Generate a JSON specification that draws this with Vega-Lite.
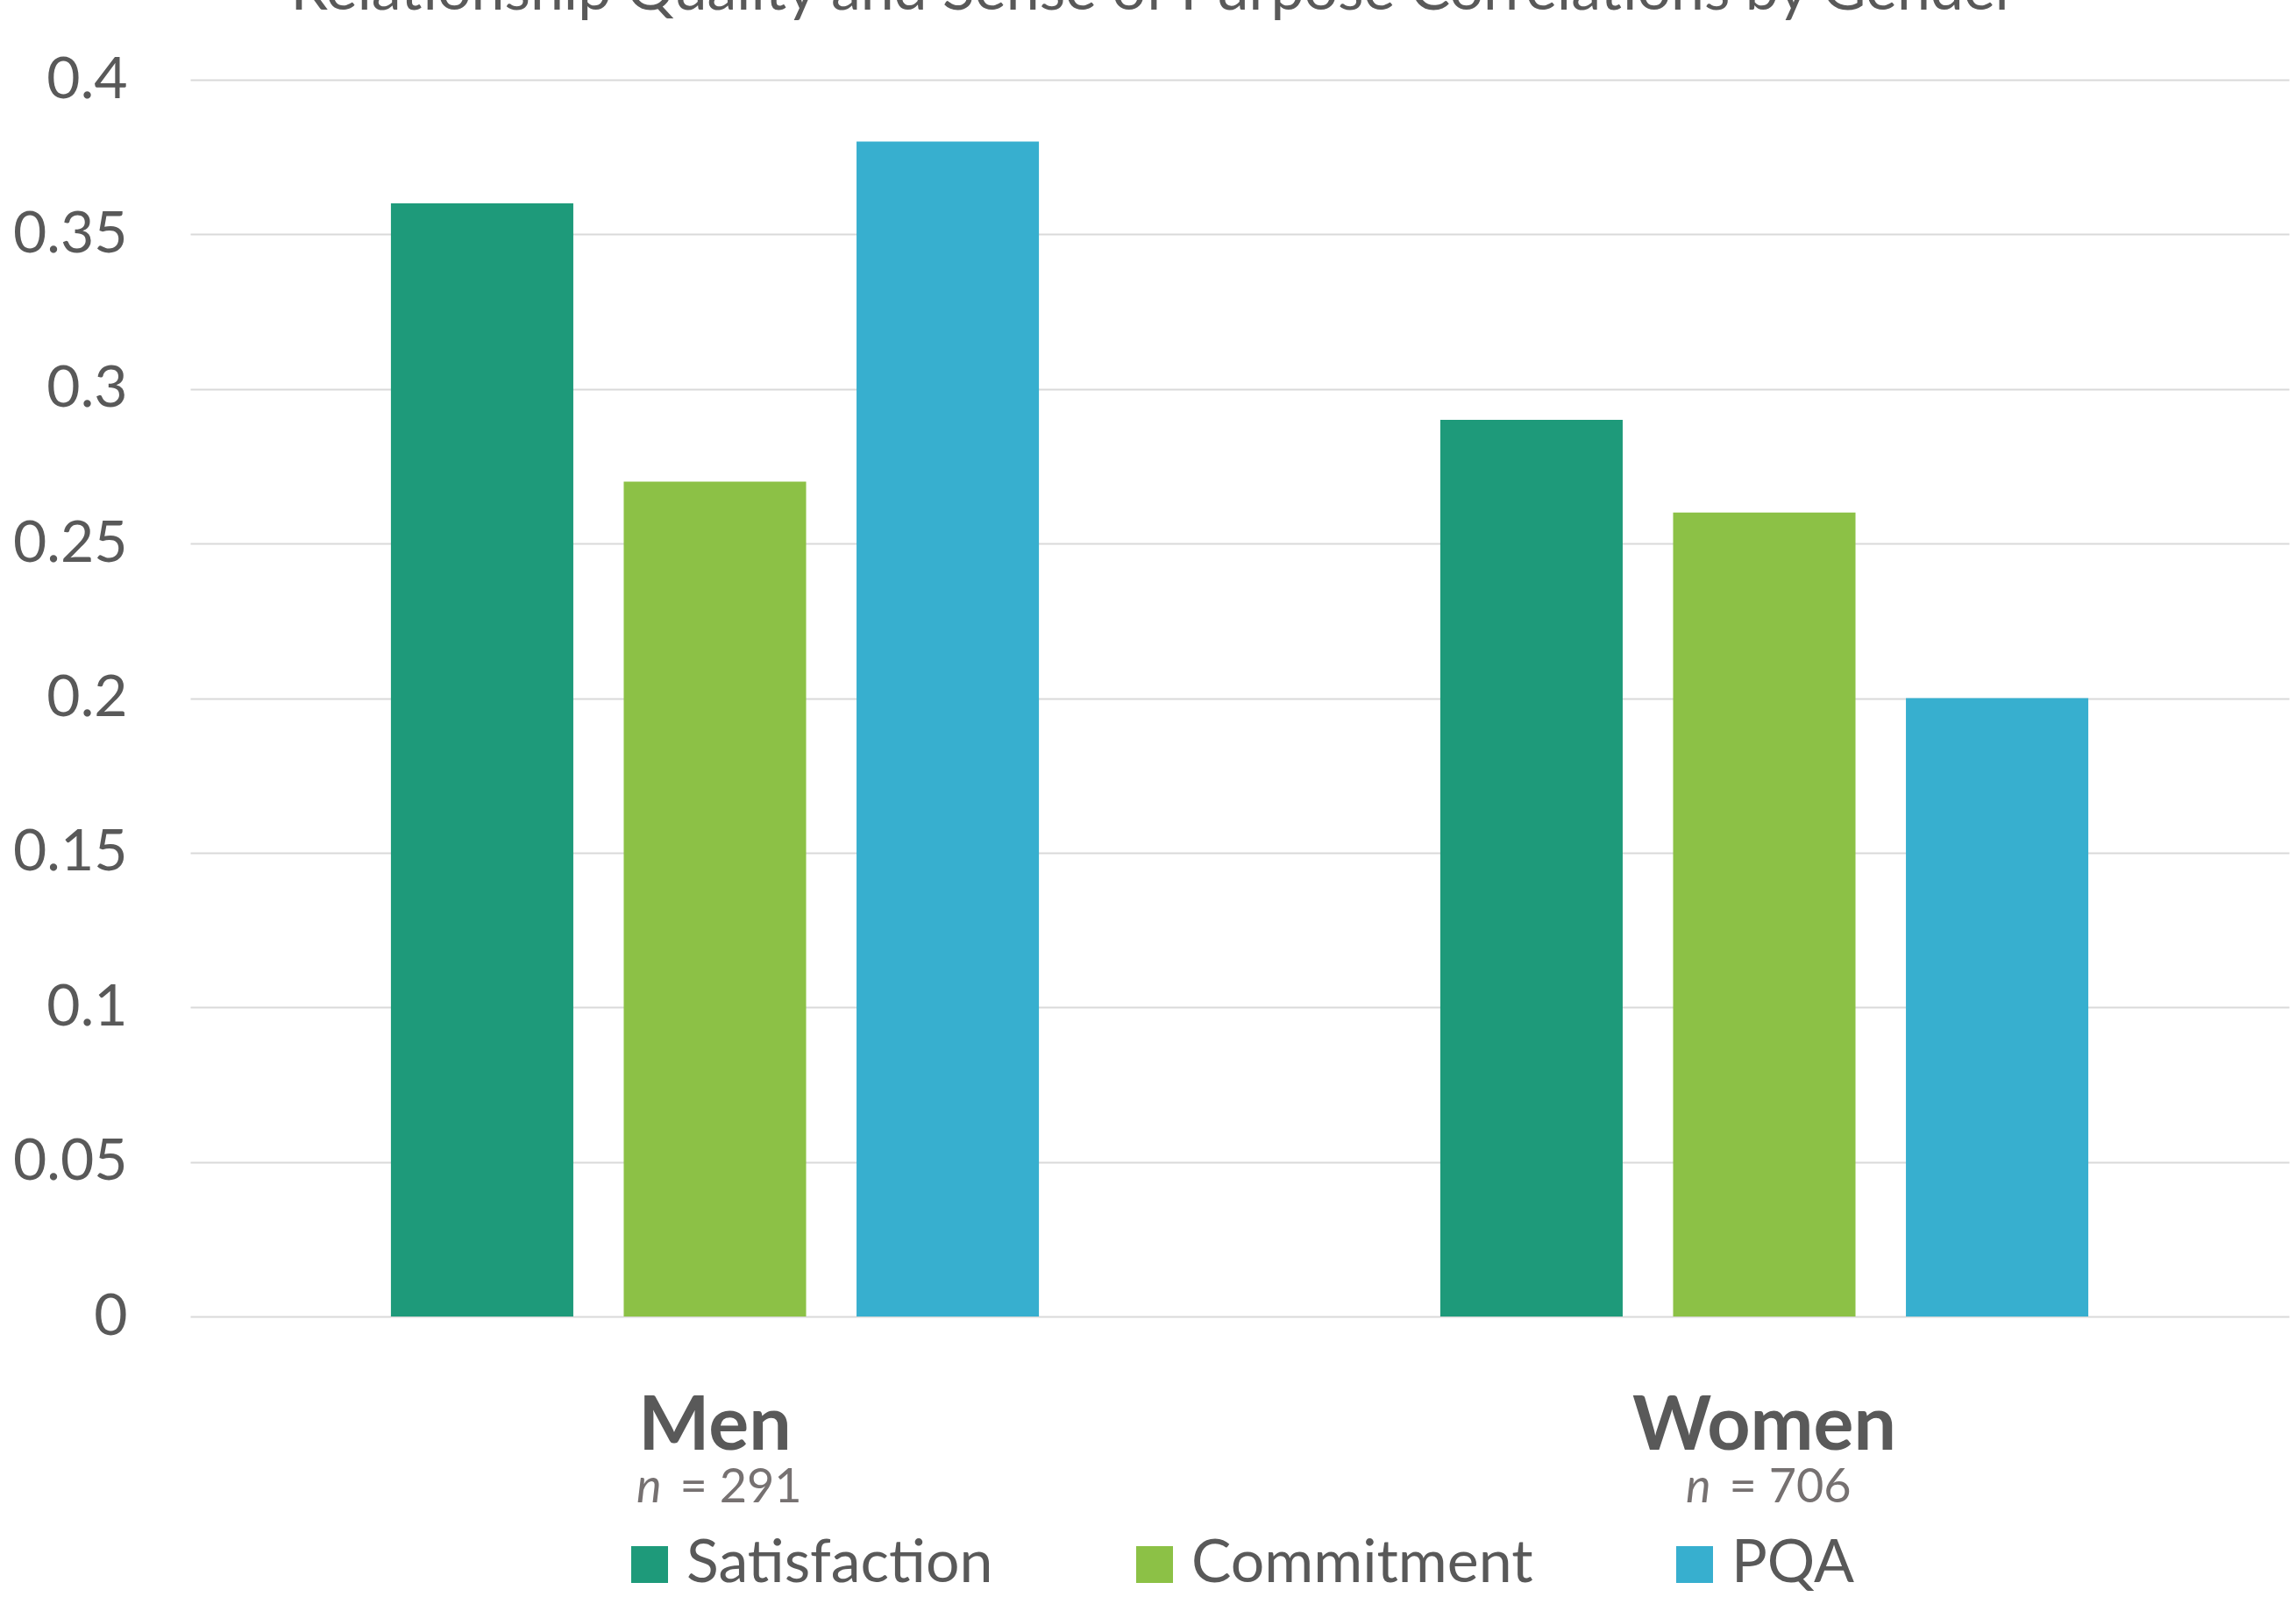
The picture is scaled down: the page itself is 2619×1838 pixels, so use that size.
{
  "$schema": "https://vega.github.io/schema/vega-lite/v6.json",
  "width": 2394,
  "height": 1411,
  "autosize": {"type": "none"},
  "padding": {"left": 217, "top": 91, "right": 8, "bottom": 336},
  "background": "white",
  "config": {"font": "Lato", "view": {"stroke": null}},
  "title": {
    "text": "Relationship Quality and Sense of Purpose Correlations by Gender",
    "fontSize": 68,
    "font": "Lato",
    "fontWeight": "normal",
    "color": "#595959",
    "anchor": "middle",
    "frame": "group",
    "offset": 33,
    "dx": -98
  },
  "datasets": {
    "bars": [
      {"gender": "Men", "measure": "Satisfaction", "r": 0.36},
      {"gender": "Men", "measure": "Commitment", "r": 0.27},
      {"gender": "Men", "measure": "PQA", "r": 0.38},
      {"gender": "Women", "measure": "Satisfaction", "r": 0.29},
      {"gender": "Women", "measure": "Commitment", "r": 0.26},
      {"gender": "Women", "measure": "PQA", "r": 0.2}
    ],
    "groups": [
      {"gender": "Men", "ital": "n", "rest": "= 291", "base": 0},
      {"gender": "Women", "ital": "n", "rest": "= 706", "base": 0}
    ]
  },
  "layer": [
    {
      "data": {"name": "bars"},
      "mark": {"type": "bar"},
      "encoding": {
        "x": {
          "field": "gender",
          "type": "nominal",
          "sort": ["Men", "Women"],
          "scale": {"paddingInner": 0, "paddingOuter": 0},
          "axis": {
            "title": null,
            "domain": false,
            "ticks": false,
            "tickSize": 0,
            "grid": false,
            "labelAngle": 0,
            "labelFont": "Lato",
            "labelFontSize": 86,
            "labelFontWeight": "bold",
            "labelColor": "#595959",
            "labelBaseline": "alphabetic",
            "labelLimit": 1000,
            "labelPadding": 151
          }
        },
        "xOffset": {
          "field": "measure",
          "type": "nominal",
          "sort": ["Satisfaction", "Commitment", "PQA"],
          "scale": {"paddingInner": 0.2166, "paddingOuter": 0.862}
        },
        "y": {
          "field": "r",
          "type": "quantitative",
          "scale": {"domain": [0, 0.4], "nice": false},
          "axis": {
            "title": null,
            "domain": false,
            "ticks": false,
            "tickSize": 0,
            "values": [0, 0.05, 0.1, 0.15, 0.2, 0.25, 0.3, 0.35, 0.4],
            "format": "~g",
            "labelFont": "Lato",
            "labelFontSize": 66,
            "labelColor": "#595959",
            "labelPadding": 72,
            "grid": true,
            "gridColor": "#d9d9d9",
            "gridWidth": 2
          }
        },
        "color": {
          "field": "measure",
          "type": "nominal",
          "sort": ["Satisfaction", "Commitment", "PQA"],
          "scale": {
            "domain": ["Satisfaction", "Commitment", "PQA"],
            "range": ["#1e9a7a", "#8cc146", "#37afcf"]
          },
          "legend": {
            "title": null,
            "orient": "none",
            "direction": "horizontal",
            "legendX": 490,
            "legendY": 1660,
            "symbolType": "square",
            "symbolSize": 1764,
            "symbolStrokeWidth": 0,
            "symbolOpacity": 1,
            "labelFont": "Lato",
            "labelFontSize": 68,
            "labelColor": "#595959",
            "labelLimit": 1000,
            "labelOffset": 8,
            "columnPadding": 150
          }
        }
      }
    },
    {
      "data": {"name": "groups"},
      "mark": {
        "type": "text",
        "font": "Lato",
        "fontSize": 54,
        "fontStyle": "italic",
        "color": "#767171",
        "align": "right",
        "baseline": "alphabetic",
        "dx": -61,
        "dy": 212
      },
      "encoding": {
        "x": {"field": "gender", "type": "nominal", "sort": ["Men", "Women"]},
        "y": {"field": "base", "type": "quantitative"},
        "text": {"field": "ital"}
      }
    },
    {
      "data": {"name": "groups"},
      "mark": {
        "type": "text",
        "font": "Lato",
        "fontSize": 54,
        "color": "#767171",
        "align": "left",
        "baseline": "alphabetic",
        "dx": -40,
        "dy": 212
      },
      "encoding": {
        "x": {"field": "gender", "type": "nominal", "sort": ["Men", "Women"]},
        "y": {"field": "base", "type": "quantitative"},
        "text": {"field": "rest"}
      }
    }
  ]
}
